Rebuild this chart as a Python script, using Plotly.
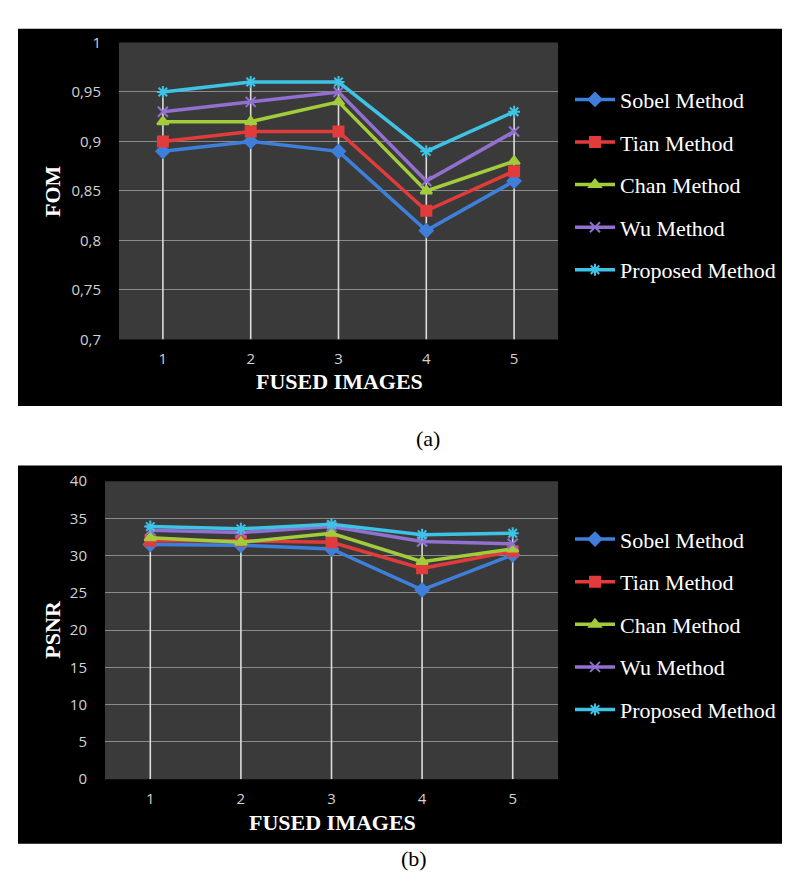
import plotly.graph_objects as go

# Data
images = [1, 2, 3, 4, 5]
methods = ['Sobel Method', 'Tian Method', 'Chan Method', 'Wu Method', 'Proposed Method']

fom_sobel = [0.89, 0.90, 0.89, 0.81, 0.86]
fom_tian = [0.90, 0.91, 0.91, 0.83, 0.87]
fom_chan = [0.92, 0.92, 0.94, 0.85, 0.88]
fom_wu = [0.93, 0.94, 0.95, 0.86, 0.91]
fom_proposed = [0.95, 0.96, 0.96, 0.89, 0.93]

psnr_sobel = [31.5, 31.4, 30.9, 25.4, 30.1]
psnr_tian = [32.0, 32.0, 31.8, 28.3, 30.6]
psnr_chan = [32.4, 31.8, 33.0, 29.2, 30.9]
psnr_wu = [33.4, 33.1, 33.9, 31.9, 31.6]
psnr_proposed = [33.9, 33.6, 34.2, 32.8, 33.0]

fom_ticks = [0.7, 0.75, 0.8, 0.85, 0.9, 0.95, 1]
fom_ticktext = ['0,7', '0,75', '0,8', '0,85', '0,9', '0,95', '1']
psnr_ticks = [0, 5, 10, 15, 20, 25, 30, 35, 40]

colors = ['#3f7fdc', '#e23b3b', '#a2cc3c', '#9170d0', '#3ec3e6']
symbols = ['diamond', 'square', 'triangle-up', 'x-thin-open', 'asterisk-open']

W, H = 790, 873


def px(x):
    return x / W


def py(y):
    return 1 - y / H


fig = go.Figure()

panels = [
    dict(series=[fom_sobel, fom_tian, fom_chan, fom_wu, fom_proposed],
         xa='x', ya='y', legend='legend', ymin=0.7),
    dict(series=[psnr_sobel, psnr_tian, psnr_chan, psnr_wu, psnr_proposed],
         xa='x2', ya='y2', legend='legend2', ymin=0),
]

for p in panels:
    # drop lines from the highest point down to the axis
    top = [max(vals) for vals in zip(*p['series'])]
    dx, dy = [], []
    for xi, t in zip(images, top):
        dx += [xi, xi, None]
        dy += [t, p['ymin'], None]
    fig.add_trace(go.Scatter(x=dx, y=dy, mode='lines', xaxis=p['xa'], yaxis=p['ya'],
                             line=dict(color='#dcdcdc', width=1.6),
                             showlegend=False, hoverinfo='skip'))
    for i, (name, vals) in enumerate(zip(methods, p['series'])):
        fig.add_trace(go.Scatter(
            x=images, y=vals, mode='lines+markers', name=name,
            xaxis=p['xa'], yaxis=p['ya'], legend=p['legend'],
            legendgroup=p['legend'] + name,
            line=dict(color=colors[i], width=3.5),
            marker=dict(symbol=symbols[i], size=10, color=colors[i],
                        line=dict(color=colors[i], width=2)),
        ))

axis_common = dict(showline=False, zeroline=False, color='#cfcfcf',
                   tickfont=dict(family='Open Sans', size=15, color='#d2d2d2'))

xaxis_common = dict(axis_common, range=[0.5, 5.5], tickvals=images, showgrid=False,
                    ticks='outside', ticklen=6, tickcolor='rgba(0,0,0,0)')

yaxis_common = dict(axis_common, showgrid=True, gridcolor='#8a8a8a', gridwidth=1,
                    ticks='outside', ticklen=14, tickcolor='rgba(0,0,0,0)')

legend_common = dict(font=dict(family='Liberation Serif', size=22, color='white'),
                     bgcolor='rgba(0,0,0,0)', itemwidth=40, tracegroupgap=11,
                     xanchor='left', yanchor='top', itemclick=False)

shapes = [
    dict(type='rect', xref='paper', yref='paper', layer='below',
         x0=px(10), x1=1, y0=py(396), y1=py(10),
         fillcolor='black', line=dict(width=0)),
    dict(type='rect', xref='paper', yref='paper', layer='below',
         x0=px(10), x1=1, y0=py(844), y1=py(457),
         fillcolor='black', line=dict(width=0)),
]
# dark grey plot areas on top of the black panels
for xa, ya in [('x', 'y'), ('x2', 'y2')]:
    shapes.append(dict(type='rect', xref=xa + ' domain', yref=ya + ' domain', layer='below',
                       x0=0, x1=1, y0=0, y1=1, fillcolor='#3a3a3a', line=dict(width=0)))

fig.update_layout(
    width=W, height=H,
    margin=dict(l=0, r=0, t=0, b=0),
    paper_bgcolor='white',
    plot_bgcolor='#3a3a3a',
    xaxis=dict(xaxis_common, domain=[px(111), px(550)], anchor='y'),
    yaxis=dict(yaxis_common, domain=[py(328), py(24)], anchor='x',
               range=[0.7, 1], tickvals=fom_ticks, ticktext=fom_ticktext),
    xaxis2=dict(xaxis_common, domain=[px(97), px(550)], anchor='y2'),
    yaxis2=dict(yaxis_common, domain=[py(778), py(473)], anchor='x2',
                range=[0, 40], tickvals=psnr_ticks),
    legend=dict(legend_common, x=px(562), y=py(61)),
    legend2=dict(legend_common, x=px(562), y=py(511)),
    showlegend=True,
    shapes=shapes,
)

title_font = dict(family='Liberation Serif', size=22, color='white')
annots = [
    dict(text='<b>FOM</b>', x=px(45), y=py(176), textangle=-90, font=title_font),
    dict(text='<b>FUSED IMAGES</b>', x=px(331), y=py(371), font=title_font),
    dict(text='<b>PSNR</b>', x=px(45), y=py(625), textangle=-90, font=title_font),
    dict(text='<b>FUSED IMAGES</b>', x=px(324), y=py(822), font=title_font),
    dict(text='(a)', x=px(420), y=py(429),
         font=dict(family='Liberation Serif', size=22, color='black')),
    dict(text='(b)', x=px(406), y=py(859),
         font=dict(family='Liberation Serif', size=22, color='black')),
]
for a in annots:
    fig.add_annotation(xref='paper', yref='paper', showarrow=False,
                       xanchor='center', yanchor='middle', **a)

fig.write_html('out.html')
